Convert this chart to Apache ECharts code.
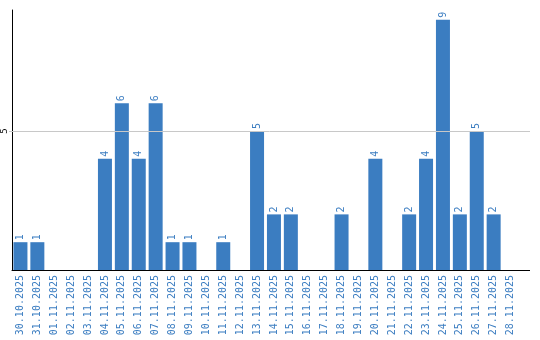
<!DOCTYPE html>
<html><head><meta charset="utf-8">
<script src="https://cdn.jsdelivr.net/npm/echarts@6/dist/echarts.min.js"></script>
<style>html,body{margin:0;padding:0;background:#fff}#c{width:540px;height:340px}</style>
</head><body><div id="c"></div>
<script>
const categories = ["30.10.2025","31.10.2025","01.11.2025","02.11.2025","03.11.2025","04.11.2025","05.11.2025","06.11.2025","07.11.2025","08.11.2025","09.11.2025","10.11.2025","11.11.2025","12.11.2025","13.11.2025","14.11.2025","15.11.2025","16.11.2025","17.11.2025","18.11.2025","19.11.2025","20.11.2025","21.11.2025","22.11.2025","23.11.2025","24.11.2025","25.11.2025","26.11.2025","27.11.2025","28.11.2025"];
const values = [1,1,0,0,0,4,6,4,6,1,1,0,1,0,5,2,2,0,0,2,0,4,0,2,4,9,2,5,2,0];
const gridLineAt = 5;
const blue = '#3b7dc1';
const chart = echarts.init(document.getElementById('c'));
chart.setOption({
  animation:false,
  grid:{left:9,right:21,top:10,bottom:70,containLabel:false},
  graphic:[{type:'line',shape:{x1:519,y1:270.5,x2:530,y2:270.5},style:{stroke:'#000',lineWidth:1},silent:true}],
  xAxis:{type:'category',data:categories,
    axisLine:{lineStyle:{color:'#000',width:1}},axisTick:{show:false},
    axisLabel:{rotate:90,interval:0,color:blue,fontSize:10,fontFamily:'DejaVu Sans Mono',margin:5}},
  yAxis:{type:'value',min:0,max:9.35,interval:5,
    axisLine:{show:true,lineStyle:{color:'#000',width:1}},axisTick:{show:false},
    splitLine:{show:false},
    axisLabel:{rotate:90,fontSize:9,color:'#000',margin:3,fontFamily:'DejaVu Sans Mono',
      formatter:v=>v===5?'5':''}},
  series:[{type:'bar',data:values.map(v=>v===0?null:v),barWidth:14,
    itemStyle:{color:blue},
    markLine:{silent:true,symbol:'none',label:{show:false},
      lineStyle:{color:'#c8c8c8',type:'solid',width:1},
      data:[{yAxis:gridLineAt, x:9, x2:530}].map(d=>[{yAxis:d.yAxis,x:9},{yAxis:d.yAxis,x:530}])},
    label:{show:true,position:'top',rotate:90,color:blue,fontSize:10,fontFamily:'DejaVu Sans Mono',distance:2,align:'left',verticalAlign:'middle'}}]
});
</script></body></html>
